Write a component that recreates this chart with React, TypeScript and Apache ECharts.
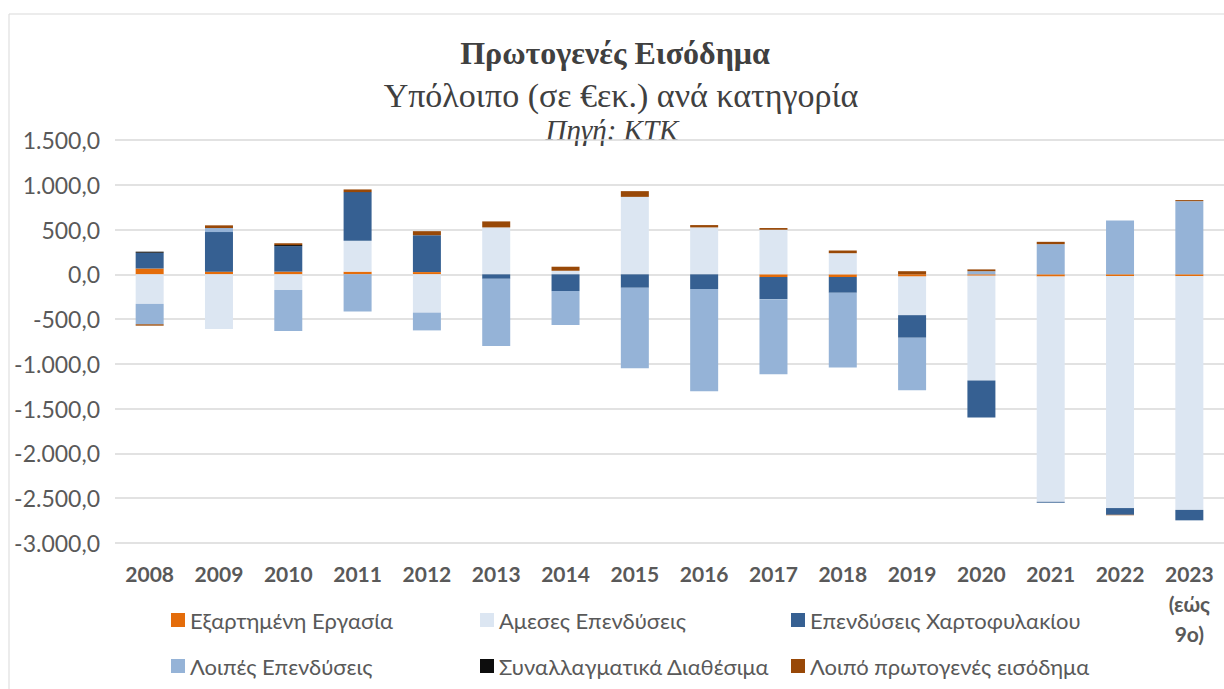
import React, { useEffect, useRef } from "react";
import * as echarts from "echarts";

const years = ["2008", "2009", "2010", "2011", "2012", "2013", "2014", "2015", "2016", "2017", "2018", "2019", "2020", "2021", "2022", "2023\n(εώς\n9ο)"];

const seriesNames = [
  "Εξαρτημένη Εργασία",
  "Αμεσες Επενδύσεις",
  "Επενδύσεις Χαρτοφυλακίου",
  "Λοιπές Επενδύσεις",
  "Συναλλαγματικά Διαθέσιμα",
  "Λοιπό πρωτογενές εισόδημα",
];

const employment = [65, 30, 30, 30, 25, 0, 0, 0, 0, -30, -30, -25, -15, -25, -20, -20];
const directInv = [-330, -610, -176, 345, -427, 524, 40, 865, 524, 498, 236, -431, -1170, -2515, -2590, -2610];
const portfolioInv = [176, 442, 285, 543, 412, -50, -187, -150, -165, -247, -176, -252, -415, -10, -75, -117];
const otherInv = [-228, 45, -457, -416, -199, -750, -378, -900, -1140, -840, -835, -585, 35, 337, 600, 817];
const reserves = [12, 0, 12, 0, 0, 0, 0, 0, 0, 0, 0, 0, 0, 0, 0, 0];
const otherIncome = [-15, 30, 20, 30, 45, 67, 45, 64, 26, 19, 30, 35, 20, 26, -5, 12];

const seriesData = [employment, directInv, portfolioInv, otherInv, reserves, otherIncome];
const colors = ["#E46C0A", "#DCE6F2", "#366092", "#95B3D7", "#0D0D0D", "#984807"];

const yTicks = { min: -3000, max: 1500, interval: 500 };

function fmt(v: number): string {
  const neg = v < 0;
  const a = Math.abs(v);
  const s = a.toFixed(0).replace(/\B(?=(\d{3})+(?!\d))/g, ".");
  return (neg ? "-" : "") + s + ",0";
}

export default function App() {
  const ref = useRef<HTMLDivElement>(null);
  useEffect(() => {
    if (!ref.current) return;
    const chart = echarts.init(ref.current, null, { renderer: "svg" });
    const legendText = { fontFamily: "Lato", fontSize: 22, color: "#595959", lineHeight: 24 };
    const mkLegend = (left: number, data: string[]) => ({
      left,
      top: 603,
      orient: "vertical",
      itemWidth: 14,
      itemHeight: 14,
      itemGap: 22,
      icon: "rect",
      data,
      textStyle: legendText,
      selectedMode: false,
    });
    chart.setOption({
      animation: false,
      color: colors,
      grid: { left: 115, top: 140, width: 1113, height: 403 },
      legend: [
        mkLegend(166, [seriesNames[0], seriesNames[3]]),
        mkLegend(475, [seriesNames[1], seriesNames[4]]),
        mkLegend(786, [seriesNames[2], seriesNames[5]]),
      ],
      graphic: [
        {
          type: "rect",
          shape: { x: 9, y: 14, width: 1240, height: 700 },
          style: { fill: "none", stroke: "#d9d9d9", lineWidth: 1 },
          silent: true,
        },
        {
          type: "text",
          x: 615,
          y: 53,
          style: {
            text: "Πρωτογενές Εισόδημα",
            fontFamily: "Liberation Serif",
            fontWeight: "bold",
            fontSize: 32,
            fill: "#404040",
            align: "center",
            verticalAlign: "middle",
          },
        },
        {
          type: "text",
          x: 621,
          y: 95,
          style: {
            text: "Υπόλοιπο (σε €εκ.) ανά κατηγορία",
            fontFamily: "Liberation Serif",
            fontSize: 34,
            fill: "#404040",
            align: "center",
            verticalAlign: "middle",
          },
        },
        {
          type: "text",
          x: 612,
          y: 130,
          style: {
            text: "Πηγή: ΚΤΚ",
            fontFamily: "Liberation Serif",
            fontStyle: "italic",
            fontSize: 29,
            fill: "#404040",
            align: "center",
            verticalAlign: "middle",
          },
        },
      ],
      xAxis: {
        type: "category",
        data: years,
        axisLine: { show: false },
        axisTick: { show: false },
        axisLabel: {
          interval: 0,
          margin: 15,
          fontFamily: "Lato",
          fontWeight: "bold",
          fontSize: 21,
          lineHeight: 30,
          color: "#595959",
        },
      },
      yAxis: {
        type: "value",
        min: yTicks.min,
        max: yTicks.max,
        interval: yTicks.interval,
        axisLine: { show: false },
        axisTick: { show: false },
        splitLine: { lineStyle: { color: "#d9d9d9", width: 1.5 } },
        axisLabel: {
          formatter: (v: number) => fmt(v),
          margin: 15,
          fontFamily: "Lato",
          fontSize: 23,
          color: "#595959",
        },
      },
      series: seriesNames.map((name, i) => ({
        name,
        type: "bar",
        stack: "total",
        barWidth: 28,
        data: seriesData[i],
        itemStyle: { color: colors[i] },
      })),
    });
    return () => chart.dispose();
  }, []);
  return (
    <div
      ref={ref}
      style={{ position: "fixed", left: 0, top: 0, width: 1224, height: 689, background: "#fff" }}
    />
  );
}
